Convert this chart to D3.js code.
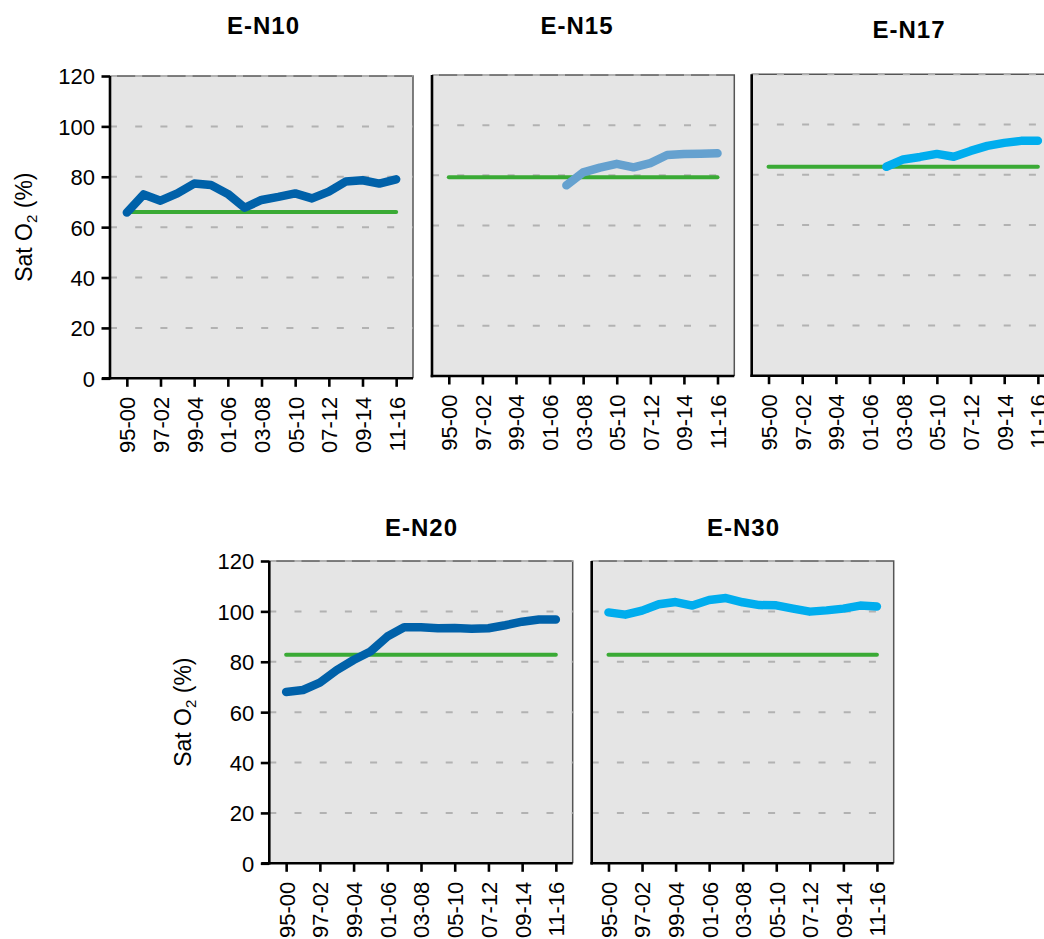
<!DOCTYPE html>
<html>
<head>
<meta charset="utf-8">
<script src="https://cdn.jsdelivr.net/npm/d3@7"></script>
<style>
  html, body { margin: 0; padding: 0; background: #ffffff; }
  svg { display: block; }
  text { font-family: "Liberation Sans", Arial, Helvetica, sans-serif; fill: #000; }
</style>
</head>
<body>
<svg id="chart" width="1044" height="939"></svg>
<script>
// ---- data ----
const periods = ["95-00","96-01","97-02","98-03","99-04","00-05","01-06","02-07","03-08","04-09","05-10","06-11","07-12","08-13","09-14","10-15","11-16"];
const tickLabels = ["95-00","97-02","99-04","01-06","03-08","05-10","07-12","09-14","11-16"];
const yTicks = [0, 20, 40, 60, 80, 100, 120];
const stations = ["E-N10","E-N15","E-N17","E-N20","E-N30"];
const satEN10 = [65.8,73.0,70.5,73.4,77.3,76.7,73.2,67.7,70.8,72.0,73.4,71.4,74.1,78.1,78.6,77.3,79.0];
const satEN15 = [null,null,null,null,null,null,null,76.0,81.2,83.1,84.6,83.2,84.9,88.1,88.5,88.6,88.8];
const satEN17 = [null,null,null,null,null,null,null,83.2,86.1,87.1,88.3,87.2,89.5,91.5,92.7,93.5,93.5];
const satEN20 = [68.0,68.8,71.7,76.7,80.7,84.1,90.0,93.7,93.7,93.3,93.4,93.1,93.3,94.5,95.9,96.8,96.8];
const satEN30 = [99.6,98.7,100.3,102.8,103.7,102.3,104.5,105.3,103.6,102.5,102.4,101.1,99.9,100.4,101.1,102.3,101.9];
const refValues = [66, 79.2, 83.2, 82.8, 82.8];
const yLabel = "Sat O";

// ---- layout ----
const seriesList = [satEN10, satEN15, satEN17, satEN20, satEN30];
const lineColors = ["#0061a9", "#65a1cf", "#00adee", "#0061a9", "#00adee"];
const boxes = [
  {l:110,   t:76,   r:413,   b:378.3, yLabels:true,  titleX:263.5, titleY:34},
  {l:432,   t:75,   r:734.3, b:376,   yLabels:false, titleX:577,   titleY:34},
  {l:751.7, t:74.3, r:1054.7,b:375.7, yLabels:false, titleX:909,   titleY:38},
  {l:269.3, t:561,  r:572.7, b:863.3, yLabels:true,  titleX:421.5, titleY:536},
  {l:591.7, t:561,  r:893.7, b:863.3, yLabels:false, titleX:743.5, titleY:536}
];

const svg = d3.select("#chart");

boxes.forEach((bx, k) => {
  const g = svg.append("g");
  const x = d3.scalePoint().domain(periods).range([bx.l, bx.r]).padding(1);
  const y = d3.scaleLinear().domain([0, 120]).range([bx.b, bx.t]);

  // background
  g.append("rect").attr("x", bx.l).attr("y", bx.t)
    .attr("width", bx.r - bx.l).attr("height", bx.b - bx.t)
    .attr("fill", "#e5e5e5");

  // border top/right
  g.append("path")
    .attr("d", `M${bx.l},${bx.t}H${bx.r}V${bx.b}`)
    .attr("fill", "none").attr("stroke", "#555").attr("stroke-width", 1.5);

  // grid lines
  g.selectAll(".grid").data(yTicks.filter(v => v > 0)).enter().append("line")
    .attr("x1", bx.l).attr("x2", bx.r)
    .attr("y1", d => y(d)).attr("y2", d => y(d))
    .attr("stroke", "#b2b2b2").attr("stroke-width", 2)
    .attr("stroke-dasharray", "7,18.2");

  // reference line (green)
  g.append("line")
    .attr("x1", x(periods[0])).attr("x2", x(periods[periods.length - 1]))
    .attr("y1", y(refValues[k])).attr("y2", y(refValues[k]))
    .attr("stroke", "#3aaa35").attr("stroke-width", 4).attr("stroke-linecap", "round");

  // series line
  const line = d3.line()
    .defined(d => d != null)
    .x((d, i) => x(periods[i]))
    .y(d => y(d));
  g.append("path")
    .datum(seriesList[k])
    .attr("d", line)
    .attr("fill", "none").attr("stroke", lineColors[k])
    .attr("stroke-width", 8.5).attr("stroke-linecap", "round").attr("stroke-linejoin", "round");

  // x axis
  const xAxis = d3.axisBottom(x).tickValues(tickLabels).tickSize(8.5).tickSizeOuter(0).tickPadding(8);
  const gx = g.append("g").attr("transform", `translate(0,${bx.b})`).call(xAxis);
  gx.select(".domain").attr("stroke", "#000").attr("stroke-width", 2.6)
    .attr("d", `M${bx.l - (bx.yLabels ? 8 : 1.3)},0H${bx.r}`);
  gx.selectAll(".tick line").attr("stroke", "#000").attr("stroke-width", 2.6);
  gx.selectAll(".tick text")
    .attr("font-size", 22)
    .attr("transform", "rotate(-90)")
    .attr("text-anchor", "end")
    .attr("x", -18.5).attr("y", 0).attr("dy", "0.36em");

  // y axis
  const yAxis = d3.axisLeft(y).tickValues(yTicks).tickSize(bx.yLabels ? 8.5 : 0).tickSizeOuter(0).tickPadding(6.5);
  const gy = g.append("g").attr("transform", `translate(${bx.l},0)`).call(yAxis);
  gy.select(".domain").attr("stroke", "#000").attr("stroke-width", 2.6)
    .attr("d", `M0,${bx.t}V${bx.b + 1.3}`);
  gy.selectAll(".tick line").attr("stroke", "#000").attr("stroke-width", 2.6);
  if (bx.yLabels) {
    gy.selectAll(".tick text").attr("font-size", 22).attr("dy", "0.36em");
  } else {
    gy.selectAll(".tick text").remove();
  }

  // title
  g.append("text")
    .attr("x", bx.titleX).attr("y", bx.titleY)
    .attr("text-anchor", "middle")
    .attr("font-size", 24).attr("font-weight", "bold")
    .attr("letter-spacing", 1)
    .text(stations[k]);

  // y label
  if (bx.yLabels) {
    const cy = (bx.t + bx.b) / 2;
    const cx = bx.l - 78;
    const t = g.append("text")
      .attr("transform", `translate(${cx},${cy}) rotate(-90)`)
      .attr("text-anchor", "middle")
      .attr("font-size", 23);
    t.append("tspan").text(yLabel);
    t.append("tspan").attr("font-size", 15).attr("dy", 5).text("2");
    t.append("tspan").attr("dy", -5).text(" (%)");
  }
});
</script>
</body>
</html>
